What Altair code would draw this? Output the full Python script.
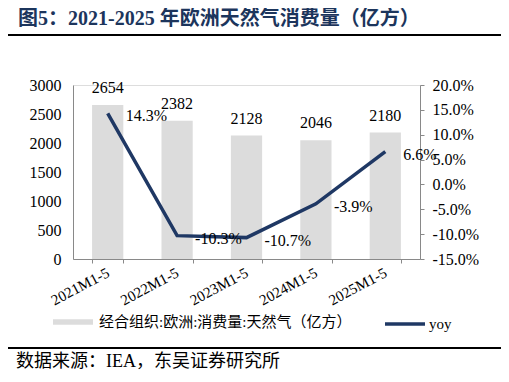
import altair as alt
import pandas as pd

categories = ["2021M1-5", "2022M1-5", "2023M1-5", "2024M1-5", "2025M1-5"]
consumption = [2654, 2382, 2128, 2046, 2180]
yoy = [0.143, -0.103, -0.107, -0.039, 0.066]
left_ticks = [0, 500, 1000, 1500, 2000, 2500, 3000]
right_ticks = [-0.15, -0.10, -0.05, 0.0, 0.05, 0.10, 0.15, 0.20]
bar_name = "经合组织:欧洲:消费量:天然气（亿方）"
line_name = "yoy"
title_text = "图5：2021-2025 年欧洲天然气消费量（亿方）"
source_text = "数据来源：IEA，东吴证券研究所"

df = pd.DataFrame({"cat": categories, "val": consumption, "yoy": yoy,
                   "bs": [bar_name] * 5, "ls": [line_name] * 5})

SERIF = "Liberation Serif"
CJK = "Liberation Serif, Noto Sans CJK SC"
NAVY = "#1f3864"
TITLE_C = "#1c355c"
BAR_C = "#dcdcdc"
AX_C = "#898989"
MINUS_FIX = "replace(datum.label, '\u2212', '-')"

base = alt.Chart(df).transform_calculate(
    yoy_label="replace(format(datum.yoy, '.1%'), '\u2212', '-')"
)

x = alt.X("cat:N", sort=categories,
          scale=alt.Scale(paddingInner=0.55, paddingOuter=0.275),
          axis=alt.Axis(title=None, labelAngle=332, labelAlign="right",
                        labelBaseline="middle", labelFont=SERIF, labelFontSize=15,
                        labelColor="black", labelPadding=8, domainColor=AX_C,
                        tickColor=AX_C, tickBand="extent", tickSize=4, grid=False))

y_left = alt.Y("val:Q", scale=alt.Scale(domain=[0, 3000]),
               axis=alt.Axis(title=None, values=left_ticks, format="d", labelFont=SERIF,
                             labelFontSize=16, labelColor="black", labelPadding=12,
                             domainColor=AX_C, ticks=False, grid=False))

y_right = alt.Y("yoy:Q", scale=alt.Scale(domain=[-0.15, 0.20]),
                axis=alt.Axis(title=None, orient="right", values=right_ticks,
                              format=".1%", labelExpr=MINUS_FIX, labelFont=SERIF,
                              labelFontSize=16, labelColor="black", labelPadding=8,
                              domainColor=AX_C, tickColor=AX_C, tickSize=4, grid=False))

bars = base.mark_bar().encode(
    x=x, y=y_left,
    color=alt.Color("bs:N", scale=alt.Scale(domain=[bar_name], range=[BAR_C]),
                    legend=alt.Legend(title=None, orient="none", legendX=-20, legendY=217,
                                      symbolType="M-1,-0.14H1V0.14H-1Z", symbolSize=1600,
                                      symbolStrokeWidth=0, labelFont=CJK, labelFontSize=15,
                                      labelColor="black", labelOffset=6, labelLimit=0,
                                      padding=0)))

bar_text = base.mark_text(baseline="alphabetic", dy=-12, font=SERIF, fontSize=16,
                          color="black").encode(x=x, y=y_left, text="val:Q")

line = base.mark_line(strokeWidth=3.5).encode(
    x=x, y=y_right,
    stroke=alt.Stroke("ls:N", scale=alt.Scale(domain=[line_name], range=[NAVY]),
                      legend=alt.Legend(title=None, orient="none", legendX=310, legendY=217,
                                        symbolType="stroke", symbolSize=1600,
                                        symbolStrokeWidth=3.5, labelFont=SERIF,
                                        labelFontSize=15, labelColor="black",
                                        labelOffset=2, padding=0)))

line_text = base.mark_text(align="left", baseline="middle", dx=18, dy=3, font=SERIF,
                           fontSize=16, color="black").encode(
    x=x, y=y_right, text="yoy_label:N")

one = pd.DataFrame({"t": [title_text]})
src = pd.DataFrame({"t": [source_text]})

title_mark = alt.Chart(one).mark_text(align="left", baseline="middle", font=CJK,
                                      fontSize=20, fontWeight="bold", color=TITLE_C).encode(
    text="t:N", x=alt.value(-55), y=alt.value(-66))

title_rule = alt.Chart(one).mark_rule(color="black", strokeWidth=2).encode(
    x=alt.value(-68), x2=alt.value(430), y=alt.value(-50))

src_rule = alt.Chart(src).mark_rule(color="black", strokeWidth=2).encode(
    x=alt.value(-68), x2=alt.value(430), y=alt.value(263))

src_mark = alt.Chart(src).mark_text(align="left", baseline="middle", font=CJK,
                                    fontSize=18, color="black").encode(
    text="t:N", x=alt.value(-57), y=alt.value(277))

left = alt.layer(bars, bar_text)
right = alt.layer(line, line_text)

chart = alt.layer(left, right, title_mark, title_rule, src_rule, src_mark).resolve_scale(
    y="independent", color="independent", stroke="independent"
).properties(
    width=347, height=174,
    autosize=alt.AutoSizeParams(type="none"),
    padding={"left": 65, "top": 77, "right": 81, "bottom": 114},
).configure_view(stroke=None).configure(background="white")

chart.save("out.html", embed_options={"renderer": "svg", "actions": False})
